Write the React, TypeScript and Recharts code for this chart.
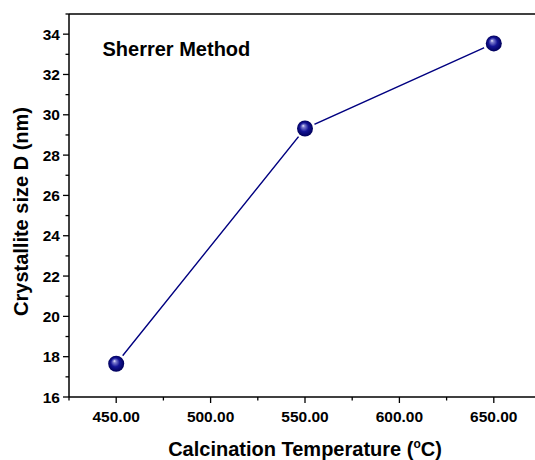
import React from 'react';
import { LineChart, Line, XAxis, YAxis, ReferenceLine } from 'recharts';

const temperatures = [450, 550, 650];
const crystalliteSize = [17.65, 29.32, 33.54];
const xTicks = [425, 450, 475, 500, 525, 550, 575, 600, 625, 650, 675];
const xLabeledTicks = [450, 500, 550, 600, 650];
const yTicks = [16, 17, 18, 19, 20, 21, 22, 23, 24, 25, 26, 27, 28, 29, 30, 31, 32, 33, 34, 35];
const yLabeledTicks = [16, 18, 20, 22, 24, 26, 28, 30, 32, 34];
const annotation = 'Sherrer Method';
const xTitle = 'Calcination Temperature (';
const yTitle = 'Crystallite size D (nm)';

const data = temperatures.map((t, i) => ({ t, d: crystalliteSize[i] }));

const FONT = '"Liberation Sans", Arial, Helvetica, sans-serif';
const TICK_SIZE = 6;
const TICK_MARGIN = 2;
const MINOR = 3.5;
const NAVY = '#000080';

const XTick = (props: any) => {
  const { x, y, payload } = props;
  const v = payload.value;
  const major = xLabeledTicks.includes(v);
  const axisY = y - TICK_SIZE - TICK_MARGIN;
  return (
    <g>
      <line x1={x} x2={x} y1={axisY} y2={axisY + (major ? TICK_SIZE : MINOR)} stroke="#000" strokeWidth={1.3} />
      {major && (
        <text x={x} y={axisY + 24.5} textAnchor="middle" fontFamily={FONT} fontWeight="bold" fontSize={15.5} fill="#000">
          {v.toFixed(2)}
        </text>
      )}
    </g>
  );
};

const YTick = (props: any) => {
  const { x, y, payload } = props;
  const v = payload.value;
  const major = yLabeledTicks.includes(v);
  const axisX = x + TICK_SIZE + TICK_MARGIN;
  return (
    <g>
      <line x1={axisX} x2={axisX - (major ? TICK_SIZE : MINOR)} y1={y} y2={y} stroke="#000" strokeWidth={1.3} />
      {major && (
        <text x={axisX - 9} y={y + 5.5} textAnchor="end" fontFamily={FONT} fontWeight="bold" fontSize={15.5} fill="#000">
          {v}
        </text>
      )}
    </g>
  );
};

const SphereDot = (props: any) => {
  const { cx, cy, index } = props;
  const id = `sphere-grad-${index}`;
  return (
    <g key={id}>
      <defs>
        <radialGradient id={id} cx="50%" cy="50%" r="50%" fx="38%" fy="32%">
          <stop offset="0%" stopColor="#f0f0ff" />
          <stop offset="18%" stopColor="#8080d0" />
          <stop offset="55%" stopColor="#141496" />
          <stop offset="100%" stopColor="#00005a" />
        </radialGradient>
      </defs>
      <circle cx={cx} cy={cy} r={10.5} fill="#fff" />
      <circle cx={cx} cy={cy} r={8} fill={`url(#${id})`} />
    </g>
  );
};

const XTitle = (props: any) => {
  const { viewBox } = props;
  const cx = viewBox.x + viewBox.width / 2;
  return (
    <text x={cx} y={viewBox.y + 58.5} textAnchor="middle" fontFamily={FONT} fontWeight="bold" fontSize={20} fill="#000">
      {xTitle}
      <tspan fontSize={12} dy={-8}>o</tspan>
      <tspan dy={8}>C)</tspan>
    </text>
  );
};

const YTitle = (props: any) => {
  const { viewBox } = props;
  const cx = viewBox.x + 12;
  const cy = viewBox.y + viewBox.height / 2 + 6;
  return (
    <text x={cx} y={cy} transform={`rotate(-90 ${cx} ${cy})`} textAnchor="middle" dominantBaseline="central" fontFamily={FONT} fontWeight="bold" fontSize={20} fill="#000">
      {yTitle}
    </text>
  );
};

const Annotation = (props: any) => {
  const { viewBox } = props;
  return (
    <text x={viewBox.x + 33.5} y={viewBox.y + 42} fontFamily={FONT} fontWeight="bold" fontSize={20} fill="#000">
      {annotation}
    </text>
  );
};

export default function App() {
  return (
    <div style={{ position: 'absolute', left: 0, top: 0, width: 535, height: 460, overflow: 'hidden', background: '#fff' }}>
      <LineChart width={560} height={460} data={data} margin={{ top: 14, right: 19, bottom: 0, left: 9 }}>
        <XAxis
          dataKey="t"
          type="number"
          domain={[425, 675]}
          ticks={xTicks}
          interval={0}
          height={63}
          tickSize={TICK_SIZE}
          tickMargin={TICK_MARGIN}
          tickLine={false}
          tick={<XTick />}
          axisLine={{ stroke: '#000', strokeWidth: 1.5 }}
          label={<XTitle />}
        />
        <YAxis
          dataKey="d"
          type="number"
          domain={[16, 35]}
          ticks={yTicks}
          interval={0}
          width={60}
          tickSize={TICK_SIZE}
          tickMargin={TICK_MARGIN}
          tickLine={false}
          tick={<YTick />}
          axisLine={{ stroke: '#000', strokeWidth: 1.5 }}
          label={<YTitle />}
        />
        <ReferenceLine y={35} stroke="#000" strokeWidth={1.5} label={<Annotation />} />
        <ReferenceLine x={675} stroke="#000" strokeWidth={1.5} />
        <Line
          dataKey="d"
          stroke={NAVY}
          strokeWidth={1.4}
          dot={<SphereDot />}
          activeDot={false}
          isAnimationActive={false}
        />
      </LineChart>
    </div>
  );
}
